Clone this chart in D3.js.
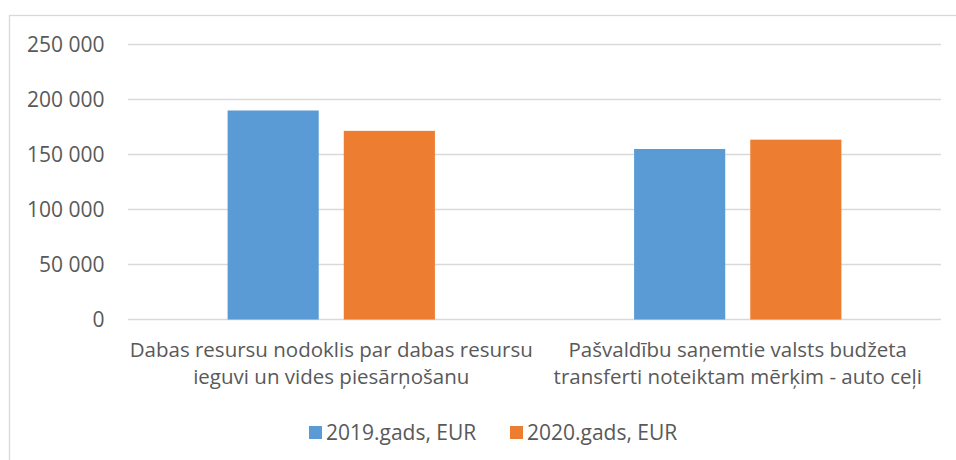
<!DOCTYPE html>
<html>
<head>
<meta charset="utf-8">
<script src="https://cdn.jsdelivr.net/npm/d3@7"></script>
<style>
  body { margin: 0; background: #fff; }
  svg text { font-family: "Open Sans", "Noto Sans", sans-serif; fill: #595959; }
</style>
</head>
<body>
<div id="chart"></div>
<script>
// categories (each label split in two lines, as in the picture)
var categories = [
  ["Dabas resursu nodoklis par dabas resursu", "ieguvi un vides piesārņošanu"],
  ["Pašvaldību saņemtie valsts budžeta", "transferti noteiktam mērķim - auto ceļi"]
]
var series = ["2019.gads, EUR", "2020.gads, EUR"]
var values2019 = [190000, 155000]
var values2020 = [171500, 163500]
var yTicks = [0, 50000, 100000, 150000, 200000, 250000]
var colors = ["#5B9BD5", "#ED7D31"]

var width = 956, height = 460
var plot = {left: 128, right: 941, top: 44.5, bottom: 319.5}

var svg = d3.select("#chart").append("svg")
    .attr("width", width)
    .attr("height", height)

// chart frame (runs off right and bottom of the picture)
svg.append("rect")
    .attr("x", 9.5).attr("y", 15.5)
    .attr("width", 970).attr("height", 470)
    .attr("fill", "none")
    .attr("stroke", "#d9d9d9")
    .attr("stroke-width", 1.3)

var y = d3.scaleLinear()
    .domain([0, 250000])
    .range([plot.bottom, plot.top])

var x0 = d3.scaleBand()
    .domain(d3.range(categories.length))
    .range([plot.left, plot.right])
    .paddingInner(0.49)
    .paddingOuter(0.245)

var x1 = d3.scaleBand()
    .domain(series)
    .range([0, x0.bandwidth()])
    .paddingInner(0.2155)

var fmt = function(d) { return d3.format(",")(d).replace(/,/g, " ") }

// gridlines
svg.append("g").selectAll("line")
  .data(yTicks)
  .enter().append("line")
    .attr("x1", plot.left).attr("x2", plot.right)
    .attr("y1", function(d) { return y(d) })
    .attr("y2", function(d) { return y(d) })
    .attr("stroke", "#d9d9d9")
    .attr("stroke-width", 1.3)

// y axis labels
svg.append("g").selectAll("text")
  .data(yTicks)
  .enter().append("text")
    .attr("x", 104.5)
    .attr("y", function(d) { return y(d) })
    .attr("dy", "0.35em")
    .attr("text-anchor", "end")
    .style("font-size", "21px")
    .text(fmt)

// bars
var rows = categories.map(function(c, i) {
  return [{s: series[0], v: values2019[i]}, {s: series[1], v: values2020[i]}]
})

var groups = svg.append("g").selectAll("g")
  .data(rows)
  .enter().append("g")
    .attr("transform", function(d, i) { return "translate(" + x0(i) + ",0)" })

groups.selectAll("rect")
  .data(function(d) { return d })
  .enter().append("rect")
    .attr("x", function(d) { return x1(d.s) })
    .attr("width", x1.bandwidth())
    .attr("y", function(d) { return y(d.v) })
    .attr("height", function(d) { return y(0) - y(d.v) })
    .attr("fill", function(d, i) { return colors[i] })

// category labels
var catLabels = svg.append("g").selectAll("text")
  .data(categories)
  .enter().append("text")
    .attr("text-anchor", "middle")
    .style("font-size", "20.5px")
    .attr("transform", function(d, i) {
      return "translate(" + (x0(i) + x0.bandwidth() / 2) + ",357)"
    })

catLabels.selectAll("tspan")
  .data(function(d) { return d })
  .enter().append("tspan")
    .attr("x", 0)
    .attr("y", function(d, i) { return i * 27 })
    .text(function(d) { return d })

// legend
var legendX = [309, 510]
var legend = svg.append("g").selectAll("g")
  .data(series)
  .enter().append("g")
    .attr("transform", function(d, i) { return "translate(" + legendX[i] + ",426)" })

legend.append("rect")
    .attr("width", 13).attr("height", 13)
    .attr("fill", function(d, i) { return colors[i] })

legend.append("text")
    .attr("x", 17)
    .attr("y", 14)
    .style("font-size", "21px")
    .text(function(d) { return d })
</script>
</body>
</html>
